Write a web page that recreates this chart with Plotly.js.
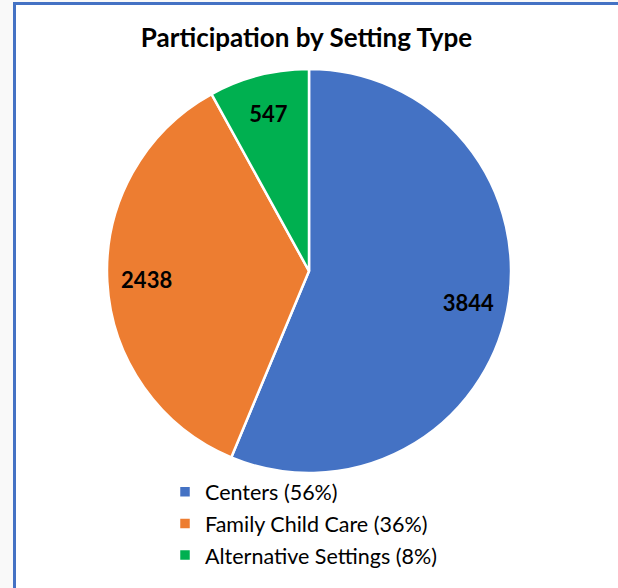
<!DOCTYPE html>
<html>
<head>
<meta charset="utf-8">
<script src="https://cdn.plot.ly/plotly-3.0.1.min.js"></script>
<style>
  html, body { margin: 0; padding: 0; background: #f9f9f9; width: 618px; height: 588px; overflow: hidden; }
  #frame { position: absolute; left: 13px; top: 2px; border-left: 3px solid #4472c4; border-top: 3px solid #4472c4; background: #ffffff; width: 602px; height: 583px; }
  #chart { width: 602px; height: 583px; }
</style>
</head>
<body>
<div id="frame"><div id="chart"></div></div>
<script>
const categories = ['Centers (56%)', 'Family Child Care (36%)', 'Alternative Settings (8%)'];
const values = [3844, 2438, 547];
const colors = ['#4472C4', '#ED7D31', '#00B050'];
const titleText = 'Participation by Setting Type';

const W = 602, H = 583;
const cx = 293, cy = 266, R = 202;
const dom = {
  x: [(cx - R) / W, (cx + R) / W],
  y: [(H - cy - R) / H, (H - cy + R) / H]
};

const legendLabels = categories.map(c => '<span style="font-size:21.5px">' + c + '</span>');

const slices = {
  type: 'pie',
  labels: legendLabels,
  values: values,
  sort: false,
  direction: 'clockwise',
  rotation: 0,
  domain: dom,
  marker: { colors: colors, line: { color: '#ffffff', width: 2.5 } },
  textinfo: 'none',
  hoverinfo: 'label+value',
  showlegend: true
};

const labelsRing = {
  type: 'pie',
  labels: legendLabels,
  values: values,
  sort: false,
  direction: 'clockwise',
  rotation: 0,
  hole: 0.61,
  domain: dom,
  marker: { colors: ['rgba(0,0,0,0)', 'rgba(0,0,0,0)', 'rgba(0,0,0,0)'], line: { width: 0 } },
  textinfo: 'value',
  textposition: 'inside',
  insidetextorientation: 'horizontal',
  insidetextfont: { family: 'Lato, "Liberation Sans", sans-serif', size: 22, color: '#000000', weight: 'bold' },
  hoverinfo: 'skip',
  showlegend: false
};

const layout = {
  width: W, height: H,
  margin: { l: 0, r: 0, t: 0, b: 0 },
  paper_bgcolor: '#ffffff',
  title: {
    text: '<b>' + titleText + '</b>',
    font: { family: 'Lato, "Liberation Sans", sans-serif', size: 26, color: '#000000' },
    x: 0.4826, xanchor: 'center', xref: 'paper',
    y: 1 - 33 / H, yanchor: 'middle', yref: 'paper'
  },
  showlegend: true,
  legend: {
    orientation: 'v',
    x: 149 / W, xanchor: 'left',
    y: 1 - 466 / H, yanchor: 'top',
    font: { family: 'Lato, "Liberation Sans", sans-serif', size: 22, color: '#000000' },
    bgcolor: 'rgba(0,0,0,0)'
  }
};

Plotly.newPlot('chart', [slices, labelsRing], layout, { staticPlot: true, displayModeBar: false });
</script>
</body>
</html>
